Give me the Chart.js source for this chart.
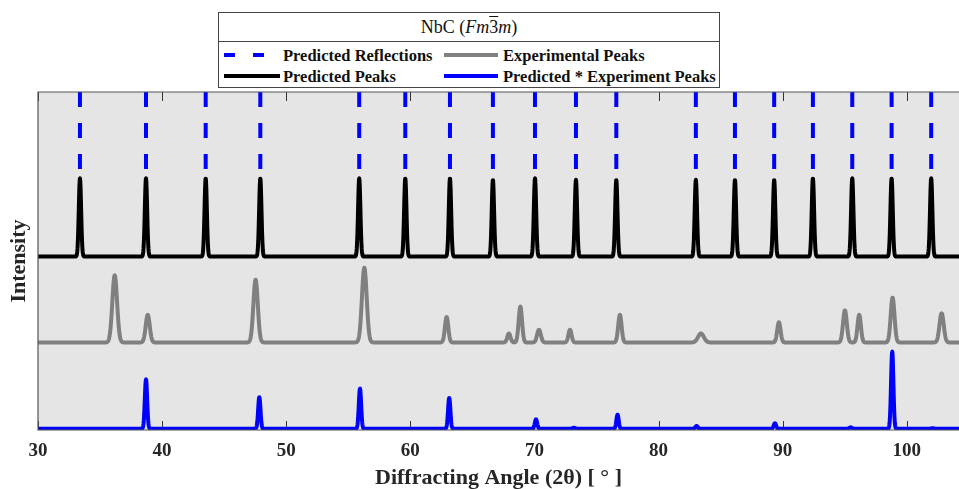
<!DOCTYPE html>
<html>
<head>
<meta charset="utf-8">
<script src="https://cdn.jsdelivr.net/npm/chart.js@4.4.1/dist/chart.umd.min.js"></script>
<style>
  html, body { margin: 0; padding: 0; background: #fff; }
  #wrap { position: relative; width: 959px; height: 489px; }
  #legend {
    position: absolute; left: 218px; top: 12px; width: 502px; height: 76px;
    border: 1.5px solid #444; background: #fff; box-sizing: border-box;
    font-family: "Liberation Serif", "Times New Roman", serif; color: #111;
  }
  #legend .title {
    height: 28px; line-height: 28px; text-align: center; font-size: 18px;
    border-bottom: 1.5px solid #444;
  }
  #legend .item { position: absolute; font-weight: bold; font-size: 16.5px; line-height: 20px; white-space: nowrap; }
  #legend svg { position: absolute; }
</style>
</head>
<body>
<div id="wrap">
  <canvas id="xrd" width="959" height="489"></canvas>
  <div id="legend">
    <div class="title">NbC (<i>Fm</i><span style="text-decoration:overline">3</span><i>m</i>)</div>
    <svg style="left:5px;top:36px" width="56" height="12"><line x1="0" y1="6" x2="56" y2="6" stroke="#0000ff" stroke-width="4" stroke-dasharray="11,18"/></svg>
    <div class="item" style="left:64px;top:33px">Predicted Reflections</div>
    <svg style="left:225px;top:36px" width="54" height="12"><line x1="0" y1="6" x2="54" y2="6" stroke="#808080" stroke-width="4"/></svg>
    <div class="item" style="left:284px;top:33px">Experimental Peaks</div>
    <svg style="left:5px;top:57px" width="56" height="12"><line x1="0" y1="6" x2="56" y2="6" stroke="#000" stroke-width="4"/></svg>
    <div class="item" style="left:64px;top:54px">Predicted Peaks</div>
    <svg style="left:225px;top:57px" width="54" height="12"><line x1="0" y1="6" x2="54" y2="6" stroke="#0000ff" stroke-width="4"/></svg>
    <div class="item" style="left:284px;top:54px">Predicted * Experiment Peaks</div>
  </div>
</div>
<script>
"use strict";

// Predicted reflections / predicted peaks (2theta, deg) and relative intensity
const predictedPos = [33.38, 38.70, 43.51, 47.91, 55.88, 59.59, 63.19, 66.65, 70.04,
                      73.34, 76.59, 83.00, 86.15, 89.31, 92.43, 95.60, 98.77, 101.96];
const predictedInt = [100, 100, 100, 100, 100, 100, 100, 98, 100,
                      98, 98, 98, 98, 98, 100, 100, 100, 100];

// Experimental peaks: position, relative intensity, FWHM
const expPos  = [36.18, 38.84, 47.53, 56.29, 62.92, 67.94, 68.86, 70.36,
                 72.86, 76.88, 83.41, 89.69, 95.01, 96.16, 98.85, 102.80];
const expInt  = [90, 37, 84, 100, 34, 12, 48, 17, 17, 37, 12, 27, 43, 37, 60, 39];
const expFwhm = [0.45, 0.38, 0.42, 0.45, 0.32, 0.3, 0.32, 0.35,
                 0.3, 0.32, 0.55, 0.32, 0.36, 0.32, 0.36, 0.4];

// Predicted * experiment peaks
const prodPos = [38.70, 47.83, 55.94, 63.13, 70.12, 73.18, 76.69, 83.06, 89.37, 95.47, 98.82, 102.07];
const prodInt = [64, 41, 52, 40, 12, 1.3, 18, 3.5, 7, 1.7, 100, 0.6];

const xTicks = [30, 40, 50, 60, 70, 80, 90, 100];
const xMin = 30, xMax = 104.2;

// vertical stacking of the three traces (y axis 0..100)
const offPred = 51.3, scalePred = 0.232;
const offExp = 25.9, scaleExp = 0.221;
const offProd = 0.4, scaleProd = 0.228;
const reflTop = 100, reflBottom = 76.9;

function profile(pos, inten, fwhm, off, scale) {
  const pts = [];
  const step = 0.02;
  for (let i = 0; i <= Math.round((xMax - xMin) / step); i++) {
    const x = xMin + i * step;
    let y = 0;
    for (let k = 0; k < pos.length; k++) {
      const w = Array.isArray(fwhm) ? fwhm[k] : fwhm;
      const s = w / 2.3548;
      const d = (x - pos[k]) / s;
      if (Math.abs(d) < 8) y += inten[k] * Math.exp(-0.5 * d * d);
    }
    pts.push({x: x, y: off + y * scale});
  }
  return pts;
}

const reflPts = [];
predictedPos.forEach(function (p) {
  reflPts.push({x: p, y: reflTop}, {x: p, y: reflBottom}, {x: p, y: null});
});

const frame = {
  id: 'frame',
  beforeDatasetsDraw(chart) {
    const a = chart.chartArea, ctx = chart.ctx;
    ctx.save();
    ctx.fillStyle = '#e5e5e5';
    ctx.fillRect(a.left, a.top, a.right - a.left, a.bottom - a.top);
    ctx.strokeStyle = '#333';
    ctx.lineWidth = 1;
    const xs = chart.scales.x;
    xs.ticks.forEach(function (t) {
      const px = Math.round(xs.getPixelForValue(t.value)) + 0.5;
      ctx.beginPath();
      ctx.moveTo(px, a.top); ctx.lineTo(px, a.top + 9);
      ctx.moveTo(px, a.bottom); ctx.lineTo(px, a.bottom - 9);
      ctx.stroke();
    });
    ctx.restore();
  },
  afterDraw(chart) {
    const a = chart.chartArea, ctx = chart.ctx;
    ctx.save();
    ctx.strokeStyle = '#555';
    ctx.lineWidth = 1.2;
    ctx.beginPath();
    ctx.moveTo(a.right + 2, a.top); ctx.lineTo(a.left, a.top);
    ctx.lineTo(a.left, a.bottom); ctx.lineTo(a.right + 2, a.bottom);
    ctx.stroke();
    ctx.restore();
  }
};

new Chart(document.getElementById('xrd').getContext('2d'), {
  type: 'line',
  data: {
    datasets: [
      { label: 'Predicted Reflections', data: reflPts, borderColor: '#0000ff', borderWidth: 4,
        borderDash: [15, 16], borderCapStyle: 'butt', spanGaps: false, tension: 0 },
      { label: 'Predicted Peaks', data: profile(predictedPos, predictedInt, 0.22, offPred, scalePred),
        borderColor: '#000000', borderWidth: 4 },
      { label: 'Experimental Peaks', data: profile(expPos, expInt, expFwhm, offExp, scaleExp),
        borderColor: '#808080', borderWidth: 4 },
      { label: 'Predicted * Experiment Peaks', data: profile(prodPos, prodInt, 0.22, offProd, scaleProd),
        borderColor: '#0000ff', borderWidth: 4 }
    ]
  },
  options: {
    responsive: false,
    animation: false,
    parsing: false,
    normalized: true,
    elements: {
      point: { radius: 0 },
      // tiny tension keeps Chart.js off its per-pixel fast path, which notches thick peaks
      line: { tension: 0.001, borderJoinStyle: 'round', borderCapStyle: 'round', fill: false }
    },
    layout: { padding: { left: 0, right: 0, top: 92, bottom: 0 } },
    plugins: { legend: { display: false }, tooltip: { enabled: false } },
    scales: {
      x: {
        type: 'linear', min: xMin, max: xMax,
        grid: { display: false, drawTicks: false }, border: { display: false },
        afterBuildTicks: function (s) { s.ticks = xTicks.map(function (v) { return {value: v}; }); },
        afterFit: function (s) { s.height = 59; },
        ticks: { padding: 10, color: '#262626', includeBounds: false,
                 font: { family: 'Liberation Serif', size: 19, weight: 'bold' } },
        title: { display: true, text: 'Diffracting Angle (2\u03b8) [ \u00b0 ]', color: '#262626',
                 padding: { top: 8, bottom: 0 },
                 font: { family: 'Liberation Serif', size: 22, weight: 'bold', lineHeight: 1 } }
      },
      y: {
        min: 0, max: 100,
        grid: { display: false }, border: { display: false },
        ticks: { display: false },
        afterFit: function (s) { s.width = 38; },
        title: { display: true, text: 'Intensity', color: '#262626',
                 padding: { top: 6, bottom: 4 },
                 font: { family: 'Liberation Serif', size: 22, weight: 'bold', lineHeight: 1.2 } }
      }
    }
  },
  plugins: [frame]
});
</script>
</body>
</html>
